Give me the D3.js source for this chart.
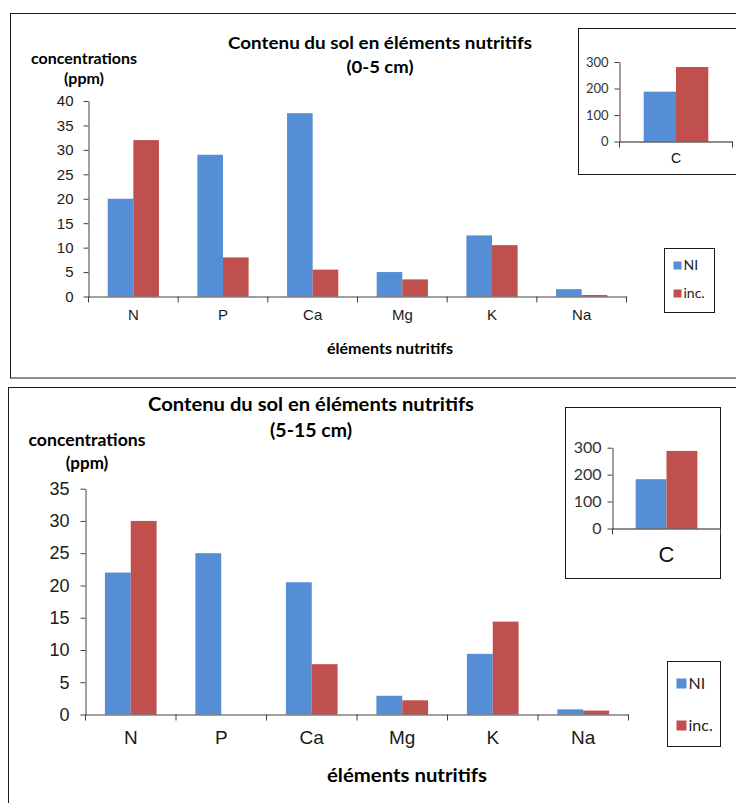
<!DOCTYPE html>
<html>
<head>
<meta charset="utf-8">
<script src="https://cdn.jsdelivr.net/npm/d3@7"></script>
<style>
  html, body { margin: 0; padding: 0; background: #fff; }
  svg { display: block; }
</style>
</head>
<body>
<svg id="chart" width="736" height="803"></svg>
<script>
// ---------- DATA ----------
const categories = ["N", "P", "Ca", "Mg", "K", "Na"];
const seriesNames = ["NI", "inc."];
const ni_0_5 = [20, 29, 37.5, 5, 12.5, 1.5];
const inc_0_5 = [32, 8, 5.5, 3.5, 10.5, 0.3];
const ni_5_15 = [22, 25, 20.5, 2.9, 9.4, 0.8];
const inc_5_15 = [30, 0, 7.8, 2.2, 14.4, 0.6];
const insetCategories = ["C"];
const carbonNI = [188, 183];     // 0-5 cm, 5-15 cm
const carbonInc = [281, 288];    // 0-5 cm, 5-15 cm
const yTicks_0_5 = [0, 5, 10, 15, 20, 25, 30, 35, 40];
const yTicks_5_15 = [0, 5, 10, 15, 20, 25, 30, 35];
const yTicksInset = [0, 100, 200, 300];
const titleLine1 = "Contenu du sol en éléments nutritifs";
const titles2 = ["(0-5 cm)", "(5-15 cm)"];
const yTitle = ["concentrations", "(ppm)"];
const xTitle = "éléments nutritifs";
const colors = ["#558ed5", "#c0504d"];

// ---------- DRAW ----------
const svg = d3.select("#chart");
const BOLD = "Lato, 'Open Sans', sans-serif";
const SANS = "'Liberation Sans', Arial, sans-serif";

function txt(g, x, y, s, size, opts = {}) {
  const t = g.append("text").attr("x", x).attr("y", y).text(s)
    .attr("font-family", opts.family || SANS)
    .attr("font-size", size)
    .attr("font-weight", opts.weight || "normal")
    .attr("fill", opts.fill || "#000")
    .attr("text-anchor", opts.anchor || "middle");
  if (opts.len) t.attr("textLength", opts.len).attr("lengthAdjust", "spacingAndGlyphs");
  return t;
}

function panel(c) {
  const g = svg.append("g");
  // frame
  g.append("rect").attr("x", c.frame[0]).attr("y", c.frame[1])
    .attr("width", c.frame[2]).attr("height", c.frame[3])
    .attr("fill", "none").attr("stroke", "#1a1a1a").attr("stroke-width", 1);

  // titles
  txt(g, c.titleX, c.titleY1, titleLine1, c.titleSize, { family: BOLD, weight: "bold", len: c.titleLen });
  txt(g, c.titleX, c.titleY2, c.title2, c.titleSize, { family: BOLD, weight: "bold", len: c.title2Len });
  txt(g, c.yTitleX, c.yTitleY1, yTitle[0], c.ySize, { family: BOLD, weight: "bold", len: c.yTitleLen });
  txt(g, c.yTitleX, c.yTitleY2, yTitle[1], c.ySize, { family: BOLD, weight: "bold" });
  txt(g, c.xTitleX, c.xTitleY, xTitle, c.xTitleSize, { family: BOLD, weight: "bold", len: c.xTitleLen });

  // scales
  const x0 = d3.scaleBand().domain(categories).range([c.left, c.right]).paddingInner(0).paddingOuter(0);
  const x1 = d3.scaleBand().domain(seriesNames).range([0, x0.bandwidth()]).paddingInner(0).paddingOuter(0.75);
  const y = d3.scaleLinear().domain([0, d3.max(c.yTicks)]).range([c.bottom, c.top]);

  const rows = categories.map((cat, i) => ({ cat, vals: [c.ni[i], c.inc[i]] }));
  const grp = g.selectAll("g.cat").data(rows).join("g").attr("class", "cat")
    .attr("transform", d => `translate(${x0(d.cat)},0)`);
  grp.selectAll("rect").data(d => d.vals.map((v, j) => ({ s: seriesNames[j], v, j })))
    .join("rect")
    .attr("x", d => x1(d.s)).attr("width", x1.bandwidth())
    .attr("y", d => y(d.v)).attr("height", d => y(0) - y(d.v))
    .attr("fill", d => colors[d.j]);

  // y axis
  const ya = g.append("g").attr("transform", `translate(${c.left},0)`)
    .call(d3.axisLeft(y).tickValues(c.yTicks).tickSize(5).tickPadding(c.tickPad).tickSizeOuter(0));
  ya.select(".domain").attr("stroke", "#404040");
  ya.selectAll(".tick line").attr("stroke", "#404040");
  ya.selectAll("text").attr("font-family", SANS).attr("font-size", c.tickSize).attr("fill", "#1a1a1a");

  // x axis (labels)
  const xa = g.append("g").attr("transform", `translate(0,${c.bottom})`)
    .call(d3.axisBottom(x0).tickSize(0).tickPadding(c.catPad).tickSizeOuter(0));
  xa.select(".domain").attr("stroke", "#404040");
  xa.selectAll("text").attr("font-family", SANS).attr("font-size", c.catSize).attr("fill", "#1a1a1a");
  // category boundary ticks
  const bounds = categories.map(d => x0(d)).concat([c.right]);
  g.selectAll("line.bt").data(bounds).join("line").attr("class", "bt")
    .attr("x1", d => d).attr("x2", d => d).attr("y1", c.bottom).attr("y2", c.bottom + 6)
    .attr("stroke", "#404040");

  // legend
  const L = c.legend;
  g.append("rect").attr("x", L[0]).attr("y", L[1]).attr("width", L[2]).attr("height", L[3])
    .attr("fill", "#fff").attr("stroke", "#1a1a1a");
  seriesNames.forEach((s, j) => {
    const yy = L[1] + c.legRowY[j];
    g.append("rect").attr("x", L[0] + 9).attr("y", yy - c.legSq).attr("width", c.legSq).attr("height", c.legSq)
      .attr("fill", colors[j]);
    txt(g, L[0] + 11 + c.legSq, yy, s, c.legSize, { family: BOLD, anchor: "start", fill: "#222" });
  });

  // inset
  const I = c.inset;
  g.append("rect").attr("x", I.box[0]).attr("y", I.box[1]).attr("width", I.box[2]).attr("height", I.box[3])
    .attr("fill", "#fff").attr("stroke", "#1a1a1a");
  const ix0 = d3.scaleBand().domain(insetCategories).range([I.left, I.right]).paddingInner(0).paddingOuter(0);
  const ix1 = d3.scaleBand().domain(seriesNames).range([0, ix0.bandwidth()]).paddingInner(0).paddingOuter(0.75);
  const iy = d3.scaleLinear().domain([0, d3.max(yTicksInset)]).range([I.bottom, I.top]);
  const ivals = [carbonNI[c.idx], carbonInc[c.idx]];
  g.selectAll("rect.ib").data(ivals).join("rect").attr("class", "ib")
    .attr("x", (d, j) => ix0("C") + ix1(seriesNames[j])).attr("width", ix1.bandwidth())
    .attr("y", d => iy(d)).attr("height", d => iy(0) - iy(d))
    .attr("fill", (d, j) => colors[j]);
  const iya = g.append("g").attr("transform", `translate(${I.left},0)`)
    .call(d3.axisLeft(iy).tickValues(yTicksInset).tickSize(5).tickPadding(I.tickPad).tickSizeOuter(0));
  iya.select(".domain").attr("stroke", "#404040");
  iya.selectAll(".tick line").attr("stroke", "#404040");
  iya.selectAll("text").attr("font-family", BOLD).attr("font-size", I.tickSize).attr("fill", "#333");
  const ixa = g.append("g").attr("transform", `translate(0,${I.bottom})`)
    .call(d3.axisBottom(ix0).tickSize(0).tickPadding(I.catPad).tickSizeOuter(0));
  ixa.select(".domain").attr("stroke", "#1a1a1a");
  ixa.selectAll("text").attr("font-family", SANS).attr("font-size", I.catSize).attr("fill", "#111");
  g.selectAll("line.ibt").data([I.left, I.right]).join("line").attr("class", "ibt")
    .attr("x1", d => d).attr("x2", d => d).attr("y1", I.bottom).attr("y2", I.bottom + 6)
    .attr("stroke", "#404040");
}

panel({
  idx: 0, ni: ni_0_5, inc: inc_0_5, yTicks: yTicks_0_5, title2: titles2[0],
  frame: [10.5, 13.5, 800, 364.5],
  titleX: 380, titleY1: 49, titleY2: 73, titleSize: 17, titleLen: 304, title2Len: 67,
  yTitleX: 84, yTitleY1: 64, yTitleY2: 84, ySize: 16, yTitleLen: 106,
  xTitleX: 390, xTitleY: 354, xTitleSize: 15, xTitleLen: 126,
  left: 88.5, right: 626.5, top: 101, bottom: 296.5,
  tickPad: 10, tickSize: 15, catPad: 13, catSize: 15,
  legend: [664.5, 248.5, 50, 64], legRowY: [21, 49], legSq: 8, legSize: 14,
  inset: { box: [578.5, 28.5, 170, 146], left: 619.5, right: 732.5, top: 62, bottom: 141.5,
           tickPad: 6, tickSize: 13, catPad: 12, catSize: 14 }
});

panel({
  idx: 1, ni: ni_5_15, inc: inc_5_15, yTicks: yTicks_5_15, title2: titles2[1],
  frame: [8.5, 387.5, 800, 500],
  titleX: 311, titleY1: 411, titleY2: 437, titleSize: 19, titleLen: 326, title2Len: 82,
  yTitleX: 87, yTitleY1: 446, yTitleY2: 469, ySize: 17, yTitleLen: 117,
  xTitleX: 407, xTitleY: 782, xTitleSize: 18, xTitleLen: 160,
  left: 85.5, right: 628.5, top: 488.7, bottom: 714.5,
  tickPad: 11, tickSize: 18, catPad: 16, catSize: 19,
  legend: [667.5, 661.5, 53, 85], legRowY: [27, 69], legSq: 10, legSize: 16,
  inset: { box: [565.5, 407.5, 155, 171], left: 612.5, right: 720.5, top: 447.7, bottom: 528.5,
           tickPad: 6, tickSize: 16, catPad: 18, catSize: 22 }
});
</script>
</body>
</html>
